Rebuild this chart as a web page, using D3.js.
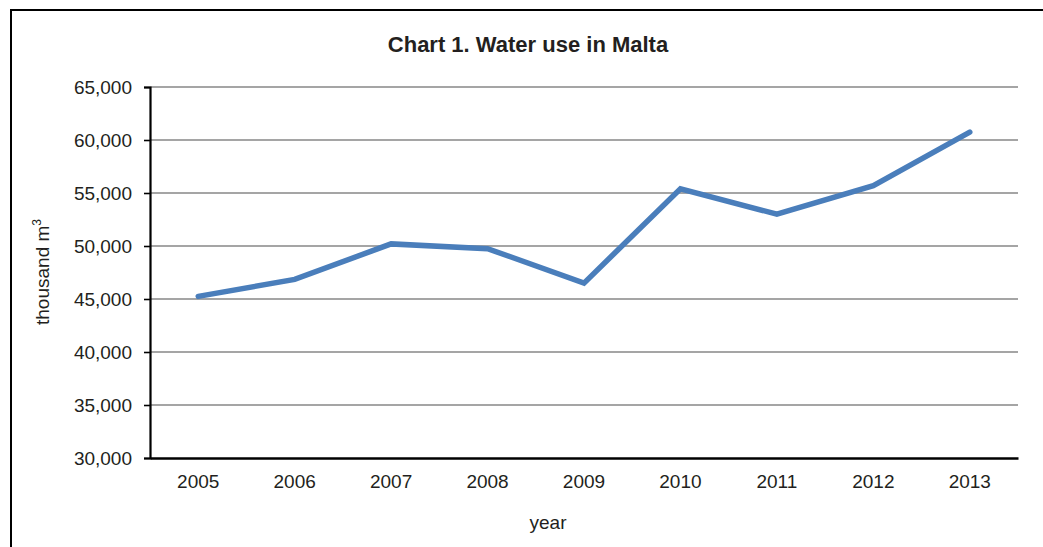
<!DOCTYPE html>
<html>
<head>
<meta charset="utf-8">
<script src="https://cdn.jsdelivr.net/npm/d3@7"></script>
<style>
  body { margin: 0; background: #fff; }
  text { font-family: "Liberation Sans", Arial, sans-serif; fill: #231f20; }
</style>
</head>
<body>
<div id="chart"></div>
<script>
var years = ["2005", "2006", "2007", "2008", "2009", "2010", "2011", "2012", "2013"];
var waterUse = [45250, 46850, 50200, 49750, 46500, 55400, 53000, 55700, 60750];
var yTicks = [30000, 35000, 40000, 45000, 50000, 55000, 60000, 65000];

var width = 1043, height = 547;
var plot = {left: 150, right: 1018, top: 87, bottom: 458};

var svg = d3.select("#chart")
  .append("svg")
  .attr("width", width)
  .attr("height", height);

// outer frame, only top and left visible in the picture
svg.append("rect")
  .attr("x", 11).attr("y", 10)
  .attr("width", width + 20).attr("height", height + 20)
  .attr("fill", "none")
  .attr("stroke", "#000")
  .attr("stroke-width", 2);

var x = d3.scaleBand().domain(years).range([plot.left, plot.right]);
var y = d3.scaleLinear().domain([30000, 65000]).range([plot.bottom, plot.top]);

// gridlines
svg.append("g")
  .selectAll("line")
  .data(yTicks.slice(1))
  .enter().append("line")
  .attr("x1", plot.left).attr("x2", plot.right)
  .attr("y1", function(d){ return y(d); })
  .attr("y2", function(d){ return y(d); })
  .attr("stroke", "#878787")
  .attr("stroke-width", 1.6);

// y axis
var yAxis = svg.append("g")
  .attr("transform", "translate(" + plot.left + ",0)")
  .call(d3.axisLeft(y).tickValues(yTicks).tickFormat(d3.format(",")).tickSize(6).tickPadding(12));
yAxis.select(".domain").attr("stroke", "#000").attr("stroke-width", 2.2);
yAxis.selectAll(".tick line").attr("stroke", "#000").attr("stroke-width", 1.6);
yAxis.selectAll(".tick text")
  .style("font-size", "19px")
  .style("font-family", "'Liberation Sans', Arial, sans-serif")
  .attr("fill", "#231f20");

// x axis
var xAxis = svg.append("g")
  .attr("transform", "translate(0," + plot.bottom + ")")
  .call(d3.axisBottom(x).tickSize(0).tickPadding(17));
xAxis.select(".domain").attr("stroke", "#000").attr("stroke-width", 2.6);
xAxis.selectAll(".tick text")
  .style("font-size", "19px")
  .style("font-family", "'Liberation Sans', Arial, sans-serif")
  .attr("fill", "#231f20");

// the line
var line = d3.line()
  .x(function(d, i){ return x(years[i]) + x.bandwidth() / 2; })
  .y(function(d){ return y(d); });

svg.append("path")
  .datum(waterUse)
  .attr("d", line)
  .attr("fill", "none")
  .attr("stroke", "#4a7ebb")
  .attr("stroke-width", 5.5)
  .attr("stroke-linejoin", "miter")
  .attr("stroke-linecap", "round");

// title
svg.append("text")
  .attr("x", 528).attr("y", 52)
  .attr("text-anchor", "middle")
  .style("font-size", "22px")
  .style("font-weight", "bold")
  .text("Chart 1. Water use in Malta");

// axis titles
svg.append("text")
  .attr("x", 548).attr("y", 529)
  .attr("text-anchor", "middle")
  .style("font-size", "19px")
  .text("year");

var yl = svg.append("text")
  .attr("transform", "translate(49,272) rotate(-90)")
  .attr("text-anchor", "middle")
  .style("font-size", "19px");
yl.append("tspan").text("thousand m");
yl.append("tspan").attr("dy", -8).style("font-size", "12px").text("3");
</script>
</body>
</html>
